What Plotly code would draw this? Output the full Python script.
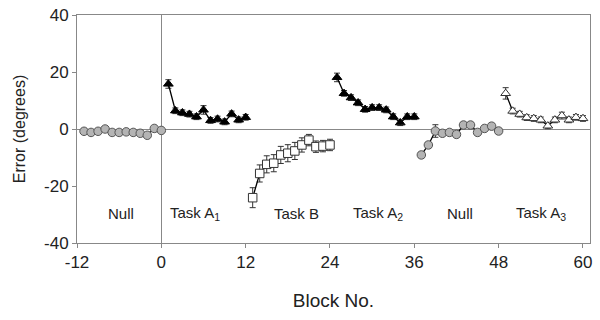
import plotly.graph_objects as go

# Null 1 (gray circles)
null1_x = list(range(-11, 1))
null1_y = [-0.8, -1.2, -0.8, 0.0, -1.2, -1.2, -1.0, -1.2, -1.5, -2.2, 0.2, -0.5]
null1_e = [0.8, 0.8, 0.8, 0.8, 0.8, 0.8, 0.8, 0.8, 0.8, 0.8, 0.8, 0.8]

# Task A1 (filled triangles)
a1_x = list(range(1, 13))
a1_y = [15.8, 6.4, 5.7, 5.2, 4.3, 6.7, 3.0, 3.5, 2.5, 5.3, 3.2, 4.1]
a1_e = [1.5, 1.0, 1.0, 1.0, 1.0, 1.5, 1.0, 1.0, 1.0, 1.0, 1.0, 1.0]

# Task B (open squares)
b_x = list(range(13, 25))
b_y = [-24.1, -15.6, -12.4, -12.0, -9.1, -8.5, -7.7, -5.6, -3.9, -6.2, -6.0, -5.6]
b_e = [3.5, 3.0, 3.0, 3.0, 3.0, 3.0, 3.0, 2.5, 2.0, 2.0, 2.0, 2.0]

# Task A2 (filled triangles)
a2_x = list(range(25, 37))
a2_y = [18.1, 12.5, 11.0, 9.2, 6.9, 7.5, 7.5, 6.7, 4.3, 2.2, 4.3, 4.3]
a2_e = [1.5, 1.0, 1.0, 1.0, 1.0, 1.0, 1.0, 1.0, 1.0, 1.0, 1.0, 1.0]

# Null 2 (gray circles)
null2_x = list(range(37, 49))
null2_y = [-9.1, -5.6, -0.7, -1.5, -1.2, -1.9, 1.4, 1.4, -1.2, 0.2, 1.0, -0.7]
null2_e = [1.0, 1.0, 2.2, 1.0, 1.0, 1.0, 1.0, 1.0, 1.0, 1.0, 1.0, 1.0]

# Task A3 (open triangles)
a3_x = list(range(49, 61))
a3_y = [12.5, 6.3, 5.2, 4.0, 3.7, 3.2, 1.1, 3.2, 4.7, 3.2, 4.1, 3.7]
a3_e = [2.0, 1.0, 1.0, 1.0, 1.0, 1.0, 1.0, 1.0, 1.2, 1.0, 1.0, 1.0]

labels = ["Null", "Task A<sub>1</sub>", "Task B", "Task A<sub>2</sub>", "Null", "Task A<sub>3</sub>"]
label_x = [-5.8, 4.8, 19.2, 30.8, 42.5, 54.0]
label_y = -29.5

x_ticks = [-12, 0, 12, 24, 36, 48, 60]
x_ticktext = ["-12", "0", "12", "24", "36", "48", "60"]
y_ticks = [-40, -20, 0, 20, 40]
y_ticktext = ["-40", "-20", "0", "20", "40"]

fig = go.Figure()

def add(x, y, e, symbol, fill, line_col):
    fig.add_trace(go.Scatter(
        x=x, y=y, mode="lines+markers",
        line=dict(color="black", width=1.3),
        marker=dict(symbol=symbol, size=8.5, color=fill,
                    line=dict(color=line_col, width=1)),
        error_y=dict(type="data", array=e, color="#333333", thickness=1, width=3),
        showlegend=False,
        cliponaxis=False,
    ))

add(null1_x, null1_y, null1_e, "circle", "#b4b4b4", "#555555")
add(a1_x, a1_y, a1_e, "triangle-up", "black", "black")
add(b_x, b_y, b_e, "square", "white", "#333333")
add(a2_x, a2_y, a2_e, "triangle-up", "black", "black")
add(null2_x, null2_y, null2_e, "circle", "#b4b4b4", "#555555")
add(a3_x, a3_y, a3_e, "triangle-up", "white", "#333333")

for t, lx in zip(labels, label_x):
    fig.add_annotation(x=lx, y=label_y, text=t, showarrow=False,
                       font=dict(size=15, color="#222222"))

fig.update_layout(
    width=600, height=320,
    margin=dict(l=77, r=10, t=15, b=77),
    paper_bgcolor="white", plot_bgcolor="white",
    font=dict(family="Liberation Sans, Arial, sans-serif", color="#222222"),
)
fig.update_xaxes(
    range=[-12, 61], tickvals=x_ticks, ticktext=x_ticktext,
    showgrid=False, showline=True, linecolor="#888888", linewidth=1, mirror=True,
    ticks="outside", ticklen=4, tickcolor="#888888",
    zeroline=True, zerolinecolor="#888888", zerolinewidth=1,
    tickfont=dict(size=17), automargin=False,
    title=dict(text="Block No.", font=dict(size=19), standoff=22),
)
fig.update_yaxes(
    range=[-40, 40], tickvals=y_ticks, ticktext=y_ticktext,
    showgrid=False, showline=True, linecolor="#888888", linewidth=1, mirror=True,
    ticks="outside", ticklen=4, tickcolor="#888888",
    zeroline=True, zerolinecolor="#888888", zerolinewidth=1,
    tickfont=dict(size=17), automargin=False,
    title=dict(text="Error (degrees)", font=dict(size=16), standoff=14),
)

fig.write_html("out.html", config={"displayModeBar": False},
               post_script="document.body.style.margin='0';document.body.style.overflow='hidden';")
